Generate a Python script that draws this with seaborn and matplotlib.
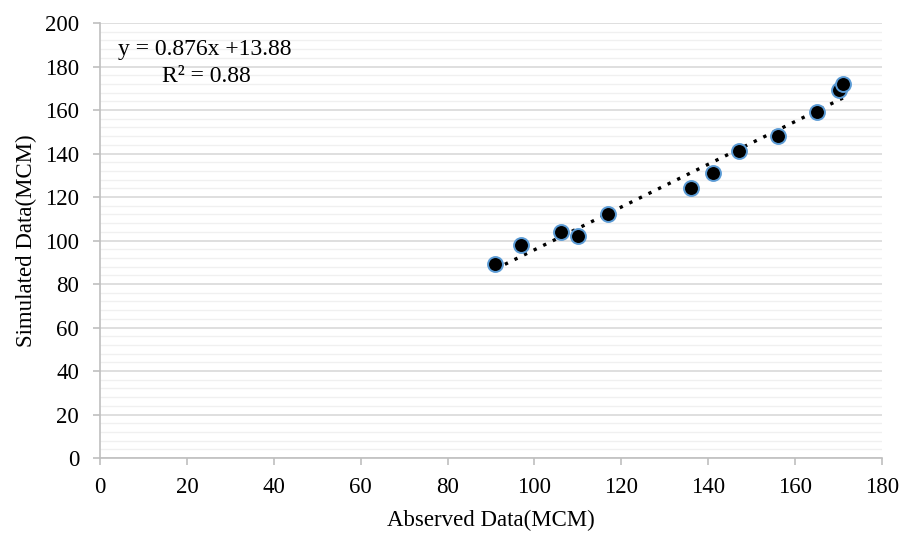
import numpy as np
import pandas as pd
import matplotlib
matplotlib.use("Agg")
import matplotlib.pyplot as plt
import seaborn as sns

# observed vs simulated (MCM)
observed = [91, 97, 106, 110, 117, 136, 141, 147, 156, 165, 170, 171]
simulated = [89, 98, 104, 102, 112, 124, 131, 141, 148, 159, 169, 172]
eq_text = "y = 0.876x +13.88"
r2_text = "R² = 0.88"

df = pd.DataFrame({"Observed": observed, "Simulated": simulated})

sns.set_theme(style="white")
plt.rcParams["font.family"] = ["Liberation Serif", "DejaVu Serif"]

fig = plt.figure(figsize=(9.04, 5.33), dpi=100)
ax = fig.add_axes([0.1106, 0.1407, 0.8651, 0.8161])

# linear trend line fitted to the points
k, b = np.polyfit(df["Observed"], df["Simulated"], 1)
xs = np.array([min(observed), max(observed)])
ax.plot(xs, k * xs + b, color="black", linestyle=(0, (1, 2.2)),
        linewidth=2.4, zorder=2)

sns.scatterplot(data=df, x="Observed", y="Simulated", ax=ax, s=115,
                color="black", edgecolor="#5B9BD5", linewidth=1.4, zorder=3)

ax.set_xlim(0, 180)
ax.set_ylim(0, 200)
ax.set_xticks(range(0, 181, 20))
ax.set_yticks(range(0, 201, 20))
ax.set_yticks(range(0, 201, 4), minor=True)
ax.grid(axis="y", which="major", color="#d9d9d9", linewidth=1.2)
ax.grid(axis="y", which="minor", color="#f0f0f0", linewidth=1.0)
ax.set_axisbelow(True)

for s in ["top", "right"]:
    ax.spines[s].set_visible(False)
for s in ["left", "bottom"]:
    ax.spines[s].set_color("#bfbfbf")
    ax.spines[s].set_linewidth(1.2)

ax.tick_params(axis="both", which="major", labelsize=16.5, colors="#bfbfbf",
               labelcolor="black", length=5, width=1.2, direction="out")
ax.tick_params(axis="y", which="minor", length=0)
ax.tick_params(axis="x", bottom=True, pad=9)
ax.tick_params(axis="y", left=True, pad=10)

ax.set_xlabel("Abserved Data(MCM)", fontsize=16.5, color="black", labelpad=8)
ax.set_ylabel("Simulated Data(MCM)", fontsize=16.5, color="black", labelpad=6)

ax.text(0.134, 0.938, eq_text, transform=ax.transAxes, ha="center", va="center",
        fontsize=17, color="black")
ax.text(0.136, 0.876, r2_text, transform=ax.transAxes, ha="center", va="center",
        fontsize=17, color="black")

fig.savefig("out.png", dpi=100)
